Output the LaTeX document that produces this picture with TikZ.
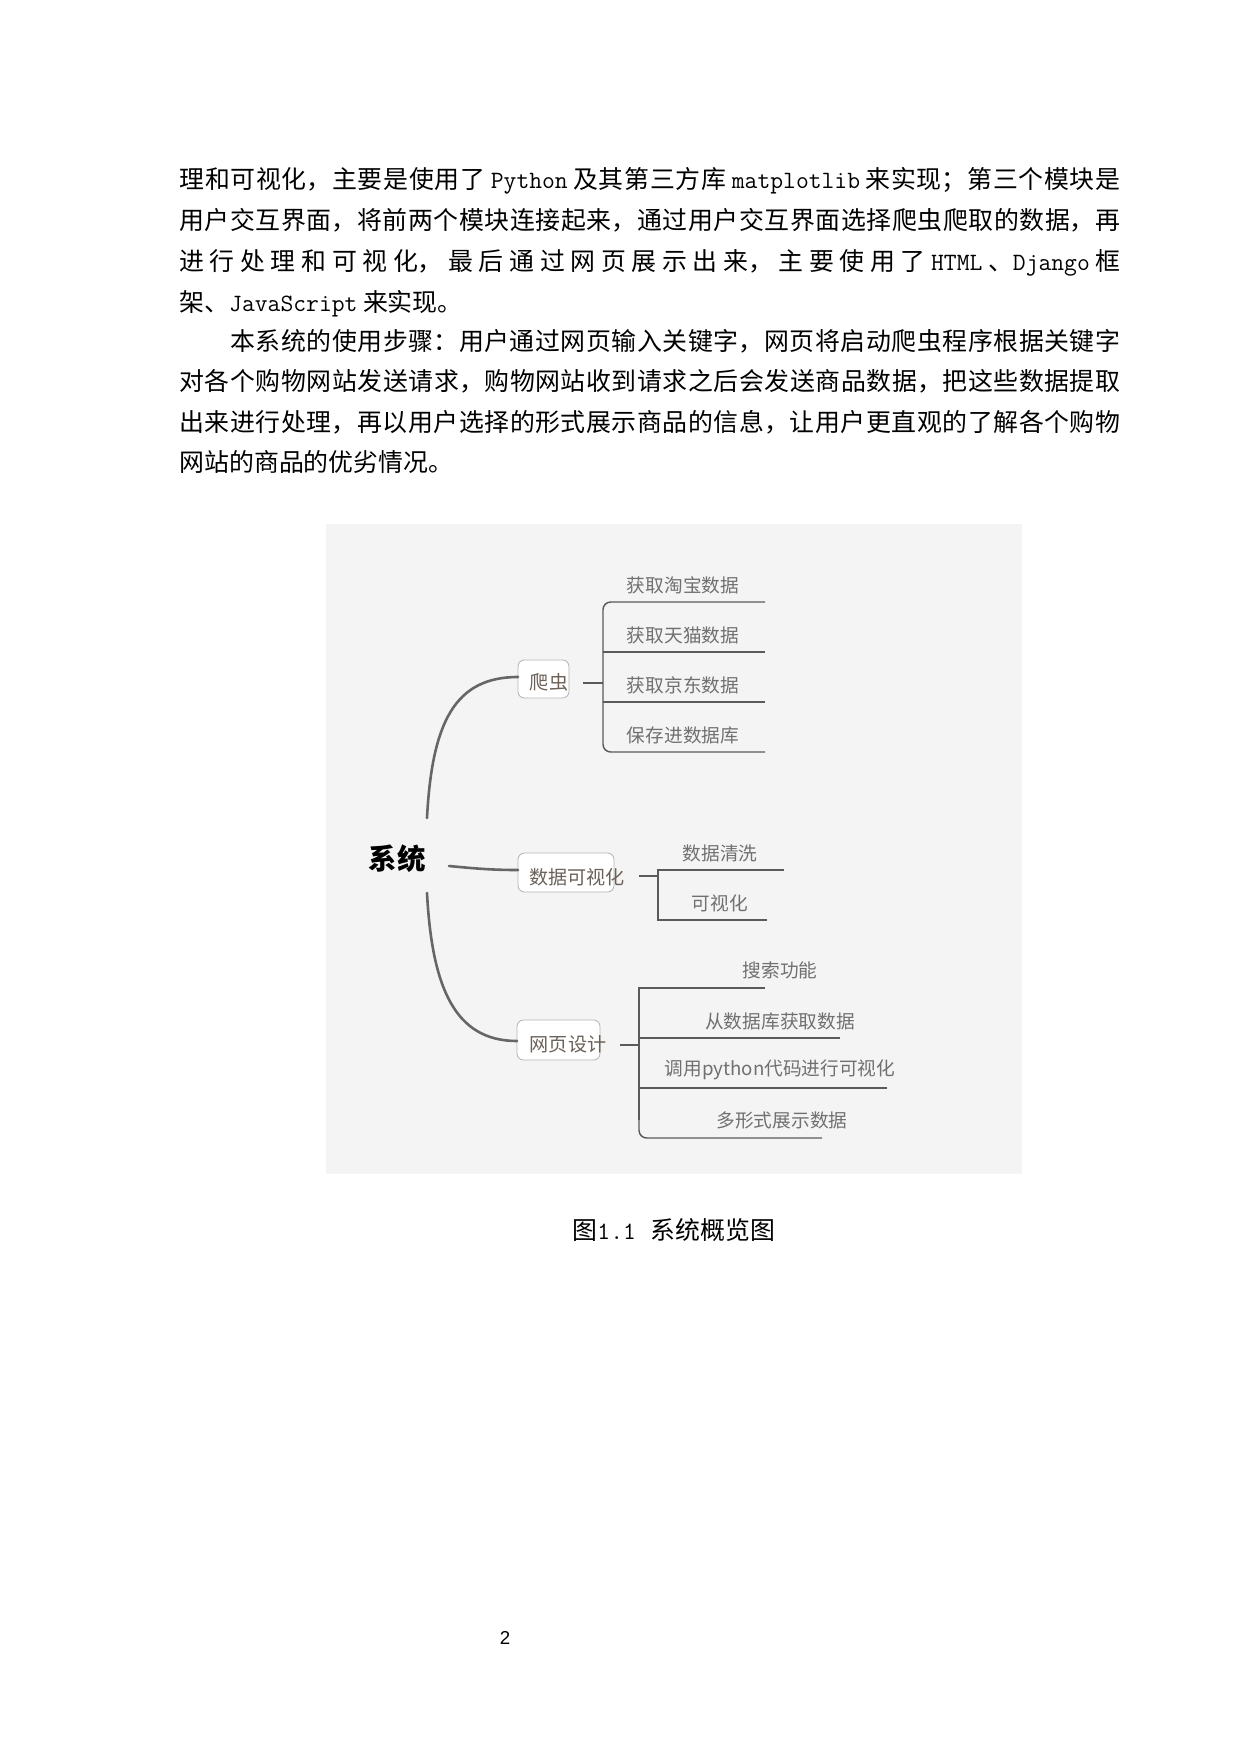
\documentclass[tikz,border=0pt]{standalone}
\usepackage{fontspec}
\setmainfont{Noto Sans CJK SC}
\newfontfamily\pnfont{Liberation Sans}
\XeTeXlinebreaklocale "zh"
\XeTeXlinebreakskip=0pt plus 1fil
\definecolor{bg}{HTML}{F4F4F4}
\definecolor{ln}{HTML}{5A5A5A}
\definecolor{tk}{HTML}{666666}
\definecolor{tx}{HTML}{707070}
\definecolor{br}{HTML}{6B6158}
\definecolor{bx}{HTML}{B5B5B5}
\newcommand\jl[1]{{\noindent\parfillskip=0pt\relax #1\par}}
\newcommand\lt[1]{{\ttfamily #1}}
\begin{document}
\begin{tikzpicture}[x=0.169355mm,y=-0.169355mm,
  body/.style={anchor=base west,inner sep=0pt,font=\fontsize{12pt}{14pt}\selectfont},
  jline/.style={body,text width=453.4pt,align=justify},
  leaf/.style={inner sep=0pt,text=tx,font=\fontsize{9pt}{11pt}\selectfont},
  branch/.style={inner sep=0pt,text=br,font=\fontsize{9.2pt}{11pt}\selectfont},
  bbox/.style={draw=bx,fill=white,rounded corners=1.1mm,line width=0.4pt,inner sep=0pt},
  conn/.style={draw=ln,line width=0.7pt},
  trunk/.style={draw=tk,line width=1.25pt,line cap=round}]
\path[use as bounding box,fill=white] (0,0) rectangle (1240,1754);

% body text
\node[jline] (l1) at (179,188) {\jl{理和可视化，主要是使用了 \lt{Python} 及其第三方库 \lt{matplotlib} 来实现；第三个模块是}};
\node[jline] (l2) at (179,229) {\jl{用户交互界面，将前两个模块连接起来，通过用户交互界面选择爬虫爬取的数据，再}};
\node[jline] (l3) at (179,270) {\jl{进行处理和可视化，最后通过网页展示出来，主要使用了 \lt{HTML} 、\lt{Django} 框}};
\node[body] (l4) at (179,311) {架、\lt{JavaScript} 来实现。};
\node[jline] (l5) at (179,350) {\jl{\hspace*{24.5pt}本系统的使用步骤：用户通过网页输入关键字，网页将启动爬虫程序根据关键字}};
\node[jline] (l6) at (179,390.5) {\jl{对各个购物网站发送请求，购物网站收到请求之后会发送商品数据，把这些数据提取}};
\node[jline] (l7) at (179,431) {\jl{出来进行处理，再以用户选择的形式展示商品的信息，让用户更直观的了解各个购物}};
\node[body] (l8) at (179,471.5) {网站的商品的优劣情况。};

% figure background
\path[fill=bg] (326,524) rectangle (1022,1174);

% root
\node[inner sep=0pt,font=\fontsize{13.7pt}{15pt}\selectfont\bfseries] (sys) at (397,859) {系统};
\coordinate (sysU) at (427,818);
\coordinate (sysM) at (449,866);
\coordinate (sysD) at (427,893);

% branch boxes
\node[bbox,minimum width=8.64mm,minimum height=6.44mm] (crawlbox) at (543.5,679) {};
\node[bbox,minimum width=16.26mm,minimum height=6.6mm] (visbox) at (566,872.5) {};
\node[bbox,minimum width=14.06mm,minimum height=6.77mm] (webbox) at (558.5,1040) {};
\node[branch] (crawl) at (549,682) {爬虫};
\node[branch] (vis) at (577,877) {数据可视化};
\node[branch] (web) at (568,1044) {网页设计};

% trunks
\coordinate (crawlin) at (518,677);
\coordinate (visin) at (518,870);
\coordinate (webin) at (517,1041);
\draw[trunk] (sysU) .. controls (432,722) and (455,677) .. (crawlin);
\draw[trunk] (sysM) .. controls (480,869) and (495,870) .. (visin);
\draw[trunk] (sysD) .. controls (432,988) and (455,1041) .. (webin);

% crawler leaves
\node[leaf] (c1) at (683,585) {获取淘宝数据};
\node[leaf] (c2) at (683,635) {获取天猫数据};
\node[leaf] (c3) at (683,685) {获取京东数据};
\node[leaf] (c4) at (683,735) {保存进数据库};
\coordinate (cj0) at (583,683);
\coordinate (cj1) at (603,683);
\coordinate (cbt) at (603,602);
\coordinate (cbb) at (603,752);
\coordinate (c1e) at (765,602);
\coordinate (c2s) at (603,652);
\coordinate (c2e) at (765,652);
\coordinate (c3s) at (603,702);
\coordinate (c3e) at (765,702);
\coordinate (c4e) at (765,752);
\draw[conn] (cj0) -- (cj1);
\draw[conn,rounded corners=1.3mm] (c1e) -- (cbt) -- (cbb) -- (c4e);
\draw[conn] (c2s) -- (c2e);
\draw[conn] (c3s) -- (c3e);

% visualisation leaves
\node[leaf] (v1) at (720,853) {数据清洗};
\node[leaf] (v2) at (720,903) {可视化};
\coordinate (vj0) at (639,876);
\coordinate (vj1) at (658,876);
\coordinate (vbt) at (658,870);
\coordinate (vbb) at (658,920);
\coordinate (v1e) at (784,870);
\coordinate (v2e) at (767,920);
\draw[conn] (vj0) -- (vj1);
\draw[conn] (v1e) -- (vbt) -- (vbb) -- (v2e);

% web leaves
\node[leaf] (w1) at (780,970) {搜索功能};
\node[leaf] (w2) at (780,1021) {从数据库获取数据};
\node[leaf] (w3) at (780,1070) {调用python代码进行可视化};
\node[leaf] (w4) at (782,1120) {多形式展示数据};
\coordinate (wj0) at (620,1045);
\coordinate (wj1) at (639,1045);
\coordinate (wbt) at (639,988);
\coordinate (wbm) at (639,1120);
\coordinate (wbb) at (639,1138);
\coordinate (w1e) at (765,988);
\coordinate (w2s) at (639,1038);
\coordinate (w2e) at (840,1038);
\coordinate (w3s) at (639,1088);
\coordinate (w3e) at (887,1088);
\coordinate (w4e) at (822,1138);
\draw[conn,line width=1pt] (wj0) -- (wj1);
\draw[conn] (w1e) -- (wbt) -- (wbm);
\draw[conn,rounded corners=1.3mm] (wbm) -- (wbb) -- (w4e);
\draw[conn] (w2s) -- (w2e);
\draw[conn] (w3s) -- (w3e);

% caption and page number
\node[anchor=base,inner sep=0pt,font=\fontsize{12pt}{14pt}\selectfont] (cap) at (674,1239) {图\lt{1.1}\hspace{0.6em}系统概览图};
\node[inner sep=0pt,font=\pnfont\fontsize{9pt}{11pt}\selectfont] (pg) at (505,1638) {2};
\end{tikzpicture}
\end{document}
